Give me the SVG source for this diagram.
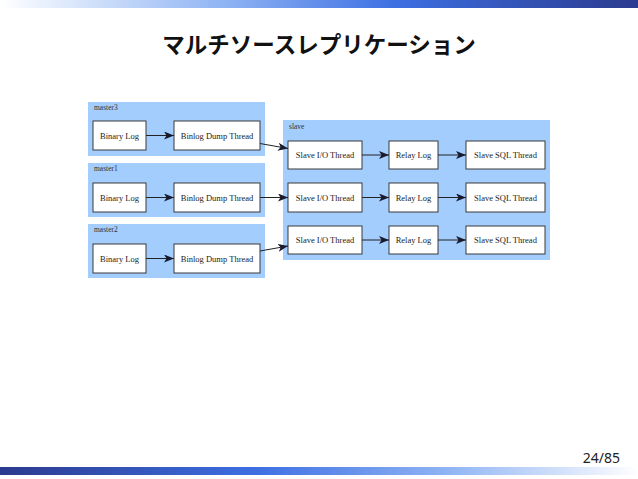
<svg xmlns="http://www.w3.org/2000/svg" width="638" height="479" viewBox="0 0 638 479">
<defs>
<linearGradient id="gTop" x1="0" y1="0" x2="1" y2="0">
<stop offset="0" stop-color="#ffffff"/>
<stop offset="0.35" stop-color="#8fb4f4"/>
<stop offset="0.62" stop-color="#3d6fe2"/>
<stop offset="1" stop-color="#2b3a8e"/>
</linearGradient>
<linearGradient id="gBot" x1="0" y1="0" x2="1" y2="0">
<stop offset="0" stop-color="#2b3a8e"/>
<stop offset="0.4" stop-color="#3d6fe2"/>
<stop offset="0.7" stop-color="#8fb4f4"/>
<stop offset="1" stop-color="#ffffff"/>
</linearGradient>
<marker id="arr" viewBox="0 0 10 8" refX="10" refY="4" markerWidth="10" markerHeight="8" markerUnits="userSpaceOnUse" orient="auto">
<path d="M0,0 L10,4 L0,8 L2.5,4 Z" fill="#1a1a2e"/>
</marker>
<style>
.cl{fill:#a3cdfd;}
.bx{fill:#ffffff;stroke:#3a3a3a;stroke-width:1;}
.t{font-family:"Liberation Serif","DejaVu Serif",serif;font-size:8.5px;fill:#222;text-anchor:middle;}
.ct{font-family:"Liberation Serif","DejaVu Serif",serif;font-size:7.5px;fill:#333;}
.e{stroke:#222;stroke-width:1;fill:none;marker-end:url(#arr);}
</style>
</defs>
<rect width="638" height="479" fill="#ffffff"/>
<rect x="0" y="0" width="638" height="8" fill="url(#gTop)"/>
<rect x="0" y="467" width="638" height="8" fill="url(#gBot)"/>
<text x="319" y="53" font-family="'Noto Sans CJK JP','Noto Sans CJK SC',sans-serif" font-size="22.5" font-weight="bold" text-anchor="middle" fill="#111">マルチソースレプリケーション</text>
<text x="620" y="463" font-family="'Noto Sans','DejaVu Sans',sans-serif" font-size="14" text-anchor="end" fill="#222">24/85</text>

<g id="master3">
<rect class="cl" x="88" y="102" width="177" height="54"/>
<text class="ct" x="94" y="110">master3</text>
</g>
<g id="master1">
<rect class="cl" x="88" y="163" width="177" height="54"/>
<text class="ct" x="94" y="171">master1</text>
</g>
<g id="master2">
<rect class="cl" x="88" y="224" width="177" height="54"/>
<text class="ct" x="94" y="232">master2</text>
</g>
<g id="slave">
<rect class="cl" x="283" y="120" width="267" height="140"/>
<text class="ct" x="289" y="129">slave</text>
</g>

<g id="m3_binlog"><rect class="bx" x="93" y="121" width="53" height="29"/><text class="t" x="119.5" y="138.5">Binary Log</text></g>
<g id="m3_dump"><rect class="bx" x="174" y="121" width="86" height="29"/><text class="t" x="217" y="138.5">Binlog Dump Thread</text></g>
<g id="m1_binlog"><rect class="bx" x="93" y="183" width="53" height="29"/><text class="t" x="119.5" y="200.5">Binary Log</text></g>
<g id="m1_dump"><rect class="bx" x="174" y="183" width="86" height="29"/><text class="t" x="217" y="200.5">Binlog Dump Thread</text></g>
<g id="m2_binlog"><rect class="bx" x="93" y="244" width="53" height="29"/><text class="t" x="119.5" y="261.5">Binary Log</text></g>
<g id="m2_dump"><rect class="bx" x="174" y="244" width="86" height="29"/><text class="t" x="217" y="261.5">Binlog Dump Thread</text></g>

<g id="s_io1"><rect class="bx" x="288" y="141" width="74" height="28"/><text class="t" x="325" y="158">Slave I/O Thread</text></g>
<g id="s_relay1"><rect class="bx" x="389" y="141" width="49" height="28"/><text class="t" x="413.5" y="158">Relay Log</text></g>
<g id="s_sql1"><rect class="bx" x="466" y="141" width="79" height="28"/><text class="t" x="505.5" y="158">Slave SQL Thread</text></g>
<g id="s_io2"><rect class="bx" x="288" y="183" width="74" height="29"/><text class="t" x="325" y="200.5">Slave I/O Thread</text></g>
<g id="s_relay2"><rect class="bx" x="389" y="183" width="49" height="29"/><text class="t" x="413.5" y="200.5">Relay Log</text></g>
<g id="s_sql2"><rect class="bx" x="466" y="183" width="79" height="29"/><text class="t" x="505.5" y="200.5">Slave SQL Thread</text></g>
<g id="s_io3"><rect class="bx" x="288" y="226" width="74" height="28"/><text class="t" x="325" y="243">Slave I/O Thread</text></g>
<g id="s_relay3"><rect class="bx" x="389" y="226" width="49" height="28"/><text class="t" x="413.5" y="243">Relay Log</text></g>
<g id="s_sql3"><rect class="bx" x="466" y="226" width="79" height="28"/><text class="t" x="505.5" y="243">Slave SQL Thread</text></g>

<g id="connectors">
<line class="e" x1="146" y1="135.5" x2="174" y2="135.5"/>
<line class="e" x1="146" y1="197.5" x2="174" y2="197.5"/>
<line class="e" x1="146" y1="258.5" x2="174" y2="258.5"/>
<line class="e" x1="260" y1="143.5" x2="288" y2="148.5"/>
<line class="e" x1="260" y1="197.5" x2="288" y2="197.5"/>
<line class="e" x1="260" y1="251" x2="288" y2="246"/>
<line class="e" x1="362" y1="155" x2="389" y2="155"/>
<line class="e" x1="438" y1="155" x2="466" y2="155"/>
<line class="e" x1="362" y1="197.5" x2="389" y2="197.5"/>
<line class="e" x1="438" y1="197.5" x2="466" y2="197.5"/>
<line class="e" x1="362" y1="240" x2="389" y2="240"/>
<line class="e" x1="438" y1="240" x2="466" y2="240"/>
</g>
</svg>
